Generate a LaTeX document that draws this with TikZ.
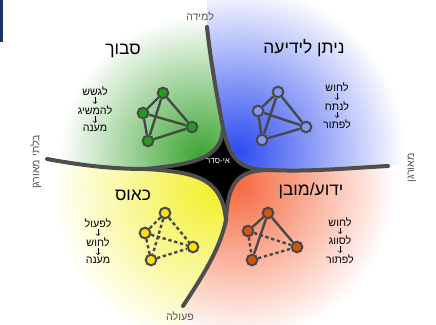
\documentclass[tikz,border=0pt]{standalone}
\usepackage{fontspec}
\newfontfamily\hebfont[Script=Hebrew]{Liberation Sans}
\TeXXeTstate=1
\newcommand{\heb}[1]{\beginR #1\endR}
\definecolor{linegray}{RGB}{78,78,78}
\definecolor{nodegray}{RGB}{72,72,72}
\definecolor{textgray}{RGB}{85,85,85}
\definecolor{barblue}{RGB}{22,52,100}
\definecolor{greenzone}{RGB}{60,165,50}
\definecolor{bluezone}{RGB}{45,75,240}
\definecolor{yellowzone}{RGB}{242,240,40}
\definecolor{orangezone}{RGB}{245,105,65}
\definecolor{greennode}{RGB}{30,160,30}
\definecolor{bluenode}{RGB}{135,150,240}
\definecolor{yellownode}{RGB}{250,225,0}
\definecolor{orangenode}{RGB}{215,85,10}

\begin{document}
\begin{tikzpicture}[x=0.75pt,y=-0.75pt,
    vertex/.style={circle,draw=nodegray,line width=1.5pt,minimum size=8pt,inner sep=0pt},
    divider/.style={draw=linegray,line width=3pt,line cap=round},
    link/.style={draw=nodegray,line width=1.8pt},
    weak/.style={link,dash pattern=on 2.5pt off 2pt},
    domainname/.style={font=\hebfont\fontsize{13}{15}\selectfont},
    stepword/.style={font=\hebfont\fontsize{8}{9}\selectfont,inner sep=1pt},
    axislabel/.style={font=\hebfont\fontsize{8}{9}\selectfont,text=textgray}]
\useasboundingbox (0,0) rectangle (436,325);
\fill[barblue] (0,0) rectangle (2.5,42);

\coordinate (T0) at (207,27);
\coordinate (Ts) at (223,128);
\coordinate (L0) at (47,159);
\coordinate (Ls) at (145,169);
\coordinate (R0) at (388,166);
\coordinate (Rs) at (270,170);
\coordinate (B0) at (183,306);
\coordinate (Bs) at (226,220);

\begin{scope}
\clip (207,0) -- (T0) .. controls (211,65) and (218,100) .. (Ts)
  .. controls (222,158) and (195,164) .. (Ls) .. controls (115,169) and (85,166) .. (L0)
  -- (0,159) -- (0,0) -- cycle;
\shade[inner color=greenzone,outer color=white] (200,155) circle[radius=105pt];
\end{scope}
\begin{scope}
\clip (207,0) -- (T0) .. controls (211,65) and (218,100) .. (Ts)
  .. controls (230,160) and (240,170) .. (Rs) .. controls (310,172) and (350,168) .. (R0)
  -- (436,166) -- (436,0) -- cycle;
\shade[inner color=bluezone,outer color=white] (238,152) circle[radius=125pt];
\end{scope}
\begin{scope}
\clip (0,159) -- (L0) .. controls (85,166) and (115,169) .. (Ls)
  .. controls (200,172) and (222,180) .. (Bs) .. controls (220,250) and (200,280) .. (B0)
  -- (183,325) -- (0,325) -- cycle;
\shade[inner color=yellowzone,outer color=white] (215,188) circle[radius=122pt];
\end{scope}
\begin{scope}
\clip (436,166) -- (R0) .. controls (350,168) and (310,172) .. (Rs)
  .. controls (238,170) and (228,182) .. (Bs) .. controls (220,250) and (200,280) .. (B0)
  -- (183,325) -- (436,325) -- cycle;
\shade[inner color=orangezone,outer color=white] (238,184) circle[radius=118pt];
\end{scope}

\fill[black] (Ts) .. controls (222,158) and (195,164) .. (Ls)
  .. controls (200,172) and (222,180) .. (Bs)
  .. controls (228,182) and (238,170) .. (Rs)
  .. controls (240,170) and (230,160) .. (Ts) -- cycle;
\draw[divider] (T0) .. controls (211,65) and (218,100) .. (Ts);
\draw[divider] (L0) .. controls (85,166) and (115,169) .. (Ls);
\draw[divider] (Rs) .. controls (310,172) and (350,168) .. (R0);
\draw[divider] (Bs) .. controls (220,250) and (200,280) .. (B0);
\draw[divider] (Ts) .. controls (222,158) and (195,164) .. (Ls);
\draw[divider] (Ts) .. controls (230,160) and (240,170) .. (Rs);
\draw[divider] (Ls) .. controls (200,172) and (222,180) .. (Bs);
\draw[divider] (Rs) .. controls (238,170) and (228,182) .. (Bs);

\node[text=white,font=\hebfont\fontsize{6}{7}\selectfont] (disorder) at (218,161) {\heb{אי-סדר}};

\node[domainname] (complex) at (123,51) {\heb{סבוך}};
\node[domainname] (complicated) at (304,48) {\heb{ניתן לידיעה}};
\node[domainname] (chaotic) at (133,195) {\heb{כאוס}};
\node[domainname] (clear) at (311,191) {\heb{ידוע/מובן}};

\node[axislabel] (learn) at (200,16) {\heb{למידה}};
\node[axislabel] (act) at (180,316) {\heb{פעולה}};
\node[axislabel,rotate=90] (unordered) at (36,162) {\heb{בלתי מאורגן}};
\node[axislabel,rotate=90] (ordered) at (412,168) {\heb{מאורגן}};

\node[vertex,fill=greennode] (gt) at (163,93) {};
\node[vertex,fill=greennode] (gl) at (143,113) {};
\node[vertex,fill=greennode] (gr) at (192,127) {};
\node[vertex,fill=greennode] (gb) at (148,141) {};
\draw[link] (gt) -- (gl);
\draw[link] (gt) -- (gr);
\draw[link] (gt) -- (gb);
\draw[link] (gl) -- (gr);
\draw[link] (gl) -- (gb);
\draw[link] (gb) -- (gr);

\node[vertex,fill=bluenode] (bt) at (278,92) {};
\node[vertex,fill=bluenode] (bl) at (258,111) {};
\node[vertex,fill=bluenode] (br) at (306,127) {};
\node[vertex,fill=bluenode] (bb) at (262,140) {};
\draw[link] (bt) -- (bl);
\draw[link] (bt) -- (br);
\draw[link] (bt) -- (bb);
\draw[link] (bl) -- (br);
\draw[link] (bl) -- (bb);
\draw[link] (bb) -- (br);

\node[vertex,fill=yellownode] (yt) at (165,213) {};
\node[vertex,fill=yellownode] (yl) at (145,233) {};
\node[vertex,fill=yellownode] (yr) at (193,247) {};
\node[vertex,fill=yellownode] (yb) at (151,260) {};
\draw[weak] (yt) -- (yl);
\draw[weak] (yt) -- (yr);
\draw[weak] (yt) -- (yb);
\draw[weak] (yl) -- (yr);
\draw[weak] (yl) -- (yb);
\draw[weak] (yb) -- (yr);

\node[vertex,fill=orangenode] (ot) at (268,213) {};
\node[vertex,fill=orangenode] (ol) at (248,231) {};
\node[vertex,fill=orangenode] (or) at (297,247) {};
\node[vertex,fill=orangenode] (ob) at (252,260) {};
\draw[link] (ot) -- (ol);
\draw[link] (ot) -- (or);
\draw[link] (ot) -- (ob);
\draw[weak] (ol) -- (or);
\draw[weak] (ol) -- (ob);
\draw[weak] (ob) -- (or);

\node[stepword] (gs1) at (95,91) {\heb{לגשש}};
\node[stepword] (gs2) at (95,110) {\heb{להמשיג}};
\node[stepword] (gs3) at (95,128) {\heb{מענה}};
\draw[->] (gs1) -- (gs2);
\draw[->] (gs2) -- (gs3);

\node[stepword] (bs1) at (337,87) {\heb{לחוש}};
\node[stepword] (bs2) at (337,106) {\heb{לנתח}};
\node[stepword] (bs3) at (337,124) {\heb{לפתור}};
\draw[->] (bs1) -- (bs2);
\draw[->] (bs2) -- (bs3);

\node[stepword] (ys1) at (98,223) {\heb{לפעול}};
\node[stepword] (ys2) at (98,242) {\heb{לחוש}};
\node[stepword] (ys3) at (98,260) {\heb{מענה}};
\draw[->] (ys1) -- (ys2);
\draw[->] (ys2) -- (ys3);

\node[stepword] (os1) at (340,222) {\heb{לחוש}};
\node[stepword] (os2) at (340,240) {\heb{לסווג}};
\node[stepword] (os3) at (340,259) {\heb{לפתור}};
\draw[->] (os1) -- (os2);
\draw[->] (os2) -- (os3);
\end{tikzpicture}
\end{document}
